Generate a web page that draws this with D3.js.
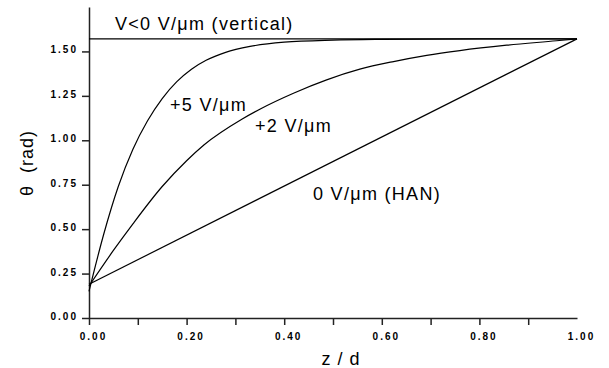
<!DOCTYPE html>
<html>
<head>
<meta charset="utf-8">
<script src="https://cdn.jsdelivr.net/npm/d3@7"></script>
<style>
  html, body { margin: 0; padding: 0; background: #fff; }
  svg { display: block; }
  text { font-family: "Liberation Sans", Arial, Helvetica, sans-serif; fill: #000; }
</style>
</head>
<body>
<svg id="chart" width="609" height="368"></svg>
<script>
// ---- data ----
const zPlus5 = [0, 0.03, 0.06, 0.09, 0.12, 0.15, 0.18, 0.21, 0.24, 0.28, 0.33, 0.40, 0.5, 0.6, 0.8, 1.0];
const thetaPlus5 = [0.15, 0.47, 0.74, 0.95, 1.11, 1.235, 1.33, 1.40, 1.45, 1.495, 1.528, 1.552, 1.564, 1.568, 1.5705, 1.5708];

const zPlus2 = [0, 0.05, 0.09, 0.15, 0.2, 0.236, 0.314, 0.35, 0.419, 0.487, 0.555, 0.624, 0.692, 0.76, 0.856, 0.958, 1.0];
const thetaPlus2 = [0.18, 0.38, 0.53, 0.74, 0.885, 0.975, 1.12, 1.175, 1.265, 1.34, 1.40, 1.443, 1.478, 1.505, 1.535, 1.56, 1.5708];

const zHAN = [0, 1.0];
const thetaHAN = [0.19, 1.5708];

const zVertical = [0, 1.0];
const thetaVertical = [1.5708, 1.5708];

const xTickValues = [0, 0.1, 0.2, 0.3, 0.4, 0.5, 0.6, 0.7, 0.8, 0.9, 1.0];
const xLabelValues = [0, 0.2, 0.4, 0.6, 0.8, 1.0];
const yTickValues = [0, 0.25, 0.5, 0.75, 1.0, 1.25, 1.5];

const curveLabels = ["V<0 V/\u03bcm (vertical)", "+5 V/\u03bcm", "+2 V/\u03bcm", "0 V/\u03bcm (HAN)"];
const xTitle = "z / d";
const yTitle = "\u03b8  (rad)";

// ---- layout ----
const svg = d3.select("#chart");
const x = d3.scaleLinear().domain([0, 1]).range([89, 577]);
const y = d3.scaleLinear().domain([0, 1.75]).range([318, 7]);

svg.append("rect").attr("width", 609).attr("height", 368).attr("fill", "#fff");

// axes
const xAxis = d3.axisBottom(x)
  .tickValues(xTickValues)
  .tickSize(7)
  .tickSizeOuter(0)
  .tickPadding(8)
  .tickFormat(d => xLabelValues.some(v => Math.abs(v - d) < 1e-9) ? d3.format(".2f")(d) : "");
const gx = svg.append("g").attr("transform", "translate(0,318)").call(xAxis);
gx.selectAll(".tick").filter(d => d === 1.0).select("line").remove();
gx.selectAll(".tick text")
  .attr("dx", 4)
  .style("font-size", "10px").style("font-weight", "bold").style("letter-spacing", "2px")
  .style("font-family", "'Liberation Sans', Arial, sans-serif");

const yAxis = d3.axisLeft(y)
  .tickValues(yTickValues)
  .tickSize(7)
  .tickSizeOuter(0)
  .tickPadding(4)
  .tickFormat(d3.format(".2f"));
const gy = svg.append("g").attr("transform", "translate(89,0)").call(yAxis);
gy.selectAll(".tick text")
  .attr("dy", "0.15em")
  .style("font-size", "10px").style("font-weight", "bold").style("letter-spacing", "2px")
  .style("font-family", "'Liberation Sans', Arial, sans-serif");

[gx, gy].forEach(g => {
  g.select(".domain").attr("stroke", "#222").attr("stroke-width", 1.5);
  g.selectAll(".tick line").attr("stroke", "#222").attr("stroke-width", 1.5);
});

// curves
const line = d3.line().x(d => x(d[0])).y(d => y(d[1])).curve(d3.curveMonotoneX);
const series = [
  [zVertical, thetaVertical],
  [zPlus5, thetaPlus5],
  [zPlus2, thetaPlus2],
  [zHAN, thetaHAN]
];
series.forEach(([zs, ts]) => {
  svg.append("path")
    .datum(zs.map((z, i) => [z, ts[i]]))
    .attr("d", line)
    .attr("fill", "none")
    .attr("stroke", "#000")
    .attr("stroke-width", 1.2);
});

// curve labels
const labelPos = [[115, 30], [170, 111], [255, 131.5], [313, 200]];
curveLabels.forEach((t, i) => {
  svg.append("text")
    .attr("x", labelPos[i][0]).attr("y", labelPos[i][1])
    .style("font-size", "18px").style("letter-spacing", "1.3px")
    .text(t);
});

// axis titles
svg.append("text")
  .attr("x", 341).attr("y", 365)
  .attr("text-anchor", "middle")
  .style("font-size", "18px").style("letter-spacing", "1px")
  .text(xTitle);

svg.append("text")
  .attr("transform", "translate(33,163) rotate(-90)")
  .attr("text-anchor", "middle")
  .style("font-size", "18px").style("letter-spacing", "1px")
  .style("white-space", "pre")
  .text(yTitle);
</script>
</body>
</html>
